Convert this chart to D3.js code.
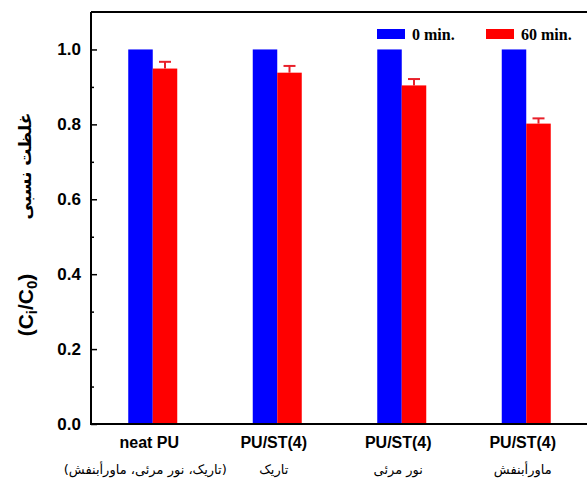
<!DOCTYPE html>
<html>
<head>
<meta charset="utf-8">
<script src="https://cdn.jsdelivr.net/npm/d3@7"></script>
<style>
body { margin: 0; background: #fff; }
svg { display: block; }
.tick-lab { font-family: Arial, "Liberation Sans", sans-serif; font-weight: bold; font-size: 17px; }
.cat1 { font-family: Arial, "Liberation Sans", sans-serif; font-weight: bold; font-size: 16px; }
.cat2 { font-family: "DejaVu Sans", sans-serif; font-size: 13px; }
.leg { font-family: "Liberation Serif", "Times New Roman", serif; font-weight: bold; font-size: 16px; }
</style>
</head>
<body>
<svg id="chart" width="587" height="486"></svg>
<script>
var categories = ['neat PU', 'PU/ST(4)', 'PU/ST(4)', 'PU/ST(4)'];
var subLabels = ['(تاریک، نور مرئی، ماورأبنفش)', 'تاریک', 'نور مرئی', 'ماورأبنفش'];
var series = ['0 min.', '60 min.'];
var colors = ['#0000ff', '#ff0000'];
var values0 = [1.0, 1.0, 1.0, 1.0];
var values60 = [0.949, 0.938, 0.904, 0.802];
var err60 = [0.018, 0.018, 0.017, 0.014];
var yTicks = [0.0, 0.2, 0.4, 0.6, 0.8, 1.0];
var yMinor = [0.1, 0.3, 0.5, 0.7, 0.9];

var svg = d3.select('#chart');
var mLeft = 91, mRight = 589, mTop = 12, mBottom = 424;

var y = d3.scaleLinear().domain([0, 1.1]).range([mBottom, mTop]);
var idx = categories.map(function(d, i){ return i; });
var x = d3.scaleBand().domain(idx).range([mLeft, mRight]);
var xi = d3.scaleBand().domain([0, 1]).range([x.bandwidth()/2 - 25, x.bandwidth()/2 + 24]);

var table = [];
idx.forEach(function(i){
	table.push({'g':i, 's':0, 'v':values0[i], 'e':0});
	table.push({'g':i, 's':1, 'v':values60[i], 'e':err60[i]});
});

//bars
svg.append('g').selectAll('rect').data(table).enter().append('rect')
	.attr('x', function(d){ return x(d.g) + xi(d.s); })
	.attr('y', function(d){ return y(d.v); })
	.attr('width', xi.bandwidth())
	.attr('height', function(d){ return y(0) - y(d.v); })
	.attr('fill', function(d){ return colors[d.s]; });

//error bars
var eb = svg.append('g').selectAll('g').data(table.filter(function(d){ return d.e > 0; })).enter().append('g')
	.attr('stroke', '#e8202a').attr('stroke-width', 2);
eb.append('line')
	.attr('x1', function(d){ return x(d.g) + xi(d.s) + xi.bandwidth()/2; })
	.attr('x2', function(d){ return x(d.g) + xi(d.s) + xi.bandwidth()/2; })
	.attr('y1', function(d){ return y(d.v); })
	.attr('y2', function(d){ return y(d.v + d.e); });
eb.append('line')
	.attr('x1', function(d){ return x(d.g) + xi(d.s) + xi.bandwidth()/2 - 6; })
	.attr('x2', function(d){ return x(d.g) + xi(d.s) + xi.bandwidth()/2 + 6; })
	.attr('y1', function(d){ return y(d.v + d.e); })
	.attr('y2', function(d){ return y(d.v + d.e); });

//axes
var yAxis = svg.append('g').attr('transform', 'translate(' + mLeft + ',0)')
	.call(d3.axisRight(y).tickValues(yTicks).tickSize(6).tickFormat(''));
yAxis.select('.domain').remove();
yAxis.selectAll('line').attr('stroke', '#000').attr('stroke-width', 1.5);
var yAxis2 = svg.append('g').attr('transform', 'translate(' + mLeft + ',0)')
	.call(d3.axisRight(y).tickValues(yMinor).tickSize(3).tickFormat(''));
yAxis2.select('.domain').remove();
yAxis2.selectAll('line').attr('stroke', '#000').attr('stroke-width', 1.5);

svg.append('g').selectAll('text').data(yTicks).enter().append('text')
	.attr('class', 'tick-lab')
	.attr('x', mLeft - 10).attr('y', function(d){ return y(d) + 6; })
	.attr('text-anchor', 'end')
	.text(function(d){ return d.toFixed(1); });

svg.append('path')
	.attr('d', 'M' + mLeft + ',' + mTop + 'V' + mBottom + 'H587M' + mLeft + ',' + mTop + 'H587')
	.attr('fill', 'none').attr('stroke', '#000').attr('stroke-width', 2);

//category labels
svg.append('g').selectAll('text').data(idx).enter().append('text')
	.attr('class', 'cat1')
	.attr('x', function(i){ return x(i) + x.bandwidth()/2 - 4; })
	.attr('y', 448)
	.attr('text-anchor', 'middle')
	.text(function(i){ return categories[i]; });
svg.append('g').selectAll('text').data(idx).enter().append('text')
	.attr('class', 'cat2')
	.attr('direction', 'rtl')
	.attr('x', function(i){ return x(i) + x.bandwidth()/2 + (i==0 ? -8 : -4); })
	.attr('y', 474)
	.attr('text-anchor', 'middle')
	.text(function(i){ return subLabels[i]; });

//y label
var yl = svg.append('text')
	.attr('transform', 'translate(33,305) rotate(-90)')
	.attr('text-anchor', 'middle')
	.style('font-family', 'Arial, "Liberation Sans", sans-serif')
	.style('font-weight', 'bold').style('font-size', '21px');
yl.append('tspan').text('(C');
yl.append('tspan').attr('dy', 4).style('font-size', '15px').text('i');
yl.append('tspan').attr('dy', -4).text('/C');
yl.append('tspan').attr('dy', 4).style('font-size', '15px').text('0');
yl.append('tspan').attr('dy', -4).text(')');
svg.append('text')
	.attr('transform', 'translate(31,166) rotate(-90)')
	.attr('text-anchor', 'middle')
	.attr('direction', 'rtl')
	.style('font-family', '"DejaVu Sans", sans-serif')
	.style('font-weight', 'bold').style('font-size', '17px')
	.text('غلظت نسبی');

//legend
var leg = svg.append('g').selectAll('g').data(series).enter().append('g')
	.attr('transform', function(d, i){ return 'translate(' + (377 + i*109) + ',29)'; });
leg.append('rect').attr('width', 28).attr('height', 10)
	.attr('fill', function(d, i){ return colors[i]; });
leg.append('text').attr('class', 'leg')
	.attr('x', 35).attr('y', 11)
	.text(function(d){ return d; });
</script>
</body>
</html>
